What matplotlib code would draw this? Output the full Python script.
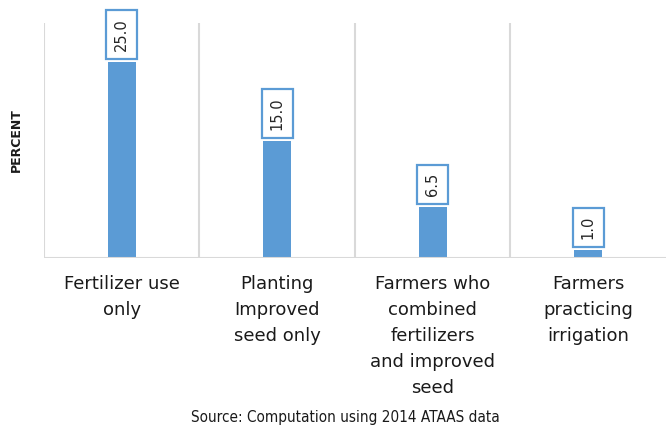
import numpy as np
import matplotlib
matplotlib.use("Agg")
import matplotlib.pyplot as plt

# Données
categories = ["Fertilizer use\nonly",
              "Planting\nImproved\nseed only",
              "Farmers who\ncombined\nfertilizers\nand improved\nseed",
              "Farmers\npracticing\nirrigation"]
percent = [25.0, 15.0, 6.5, 1.0]

bar_color = "#5b9bd5"
grid_color = "#d9d9d9"

fig = plt.figure(figsize=(6.66, 4.34), dpi=100)
ax = fig.add_axes([0.066, 0.405, 0.934, 0.542])

x = np.arange(len(categories))
ax.bar(x, percent, width=0.18, color=bar_color, zorder=3)

# Étiquettes de valeur dans des cadres
for xi, v in zip(x, percent):
    ax.annotate(f"{v:.1f}", (xi, v), xytext=(0, 8), textcoords="offset points",
                rotation=90, ha="center", va="bottom", fontsize=10.5,
                color="#262626",
                bbox=dict(boxstyle="square,pad=0.55", fc="white",
                          ec=bar_color, lw=1.6))

ax.set_xlim(-0.5, len(categories) - 0.5)
ax.set_ylim(0, 30)

# Séparateurs verticaux entre catégories
for b in np.arange(len(categories)) - 0.5:
    ax.axvline(b, color=grid_color, lw=1.5, zorder=1)
ax.axhline(0, color=grid_color, lw=1.5, zorder=4)

for s in ax.spines.values():
    s.set_visible(False)
ax.set_yticks([])
ax.set_xticks(x)
ax.set_xticklabels(categories, fontsize=13, linespacing=1.58, color="#1a1a1a")
ax.tick_params(axis="x", length=0, pad=12)

fig.text(0.024, 0.678, "PERCENT", rotation=90, ha="center", va="center",
         fontsize=9, fontweight="bold", color="#1a1a1a")

fig.text(0.518, 0.037, "Source: Computation using 2014 ATAAS data",
         ha="center", va="center", fontsize=11, color="#1a1a1a",
         family=["Liberation Sans Narrow", "DejaVu Sans"],
         fontstretch="condensed")

fig.savefig("out.png", dpi=100)
